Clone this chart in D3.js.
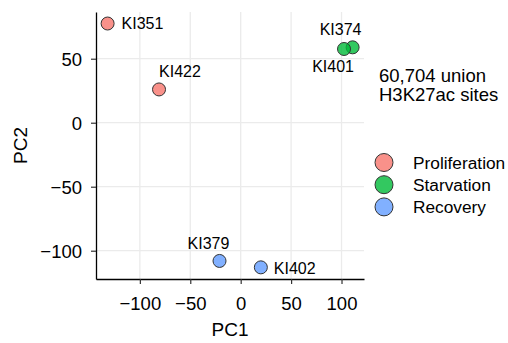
<!DOCTYPE html>
<html><head><meta charset="utf-8">
<script src="https://cdn.jsdelivr.net/npm/d3@7"></script>
<style>body{margin:0;background:#fff}svg{display:block;font-family:"Liberation Sans",Arial,sans-serif}</style>
</head><body><svg id="c" width="508" height="343"></svg>
<script>
const samples = ["KI351","KI422","KI374","KI401","KI379","KI402"];
const pc1 = [-132, -81, 111, 102.5, -21, 20];
const pc2 = [77.5, 26, 58.9, 57.6, -108, -113];
const groups = ["Proliferation","Proliferation","Starvation","Starvation","Recovery","Recovery"];
const groupNames = ["Proliferation","Starvation","Recovery"];
const groupColors = ["#F8766D","#00BA38","#619CFF"];
const xTicks = [-100,-50,0,50,100];
const yTicks = [-100,-50,0,50];
const annotation = ["60,704 union","H3K27ac sites"];

// label placement (style, not data)
const labelPos = {
  KI351:{dx:14,dy:0,anchor:"start",base:"central"},
  KI422:{dx:0,dy:-12,anchor:"start",base:"auto"},
  KI374:{dx:-12,dy:-12,anchor:"middle",base:"auto"},
  KI401:{dx:-11,dy:23,anchor:"middle",base:"auto"},
  KI379:{dx:-11,dy:-12,anchor:"middle",base:"auto"},
  KI402:{dx:13,dy:1,anchor:"start",base:"central"}
};

const svg = d3.select("#c");
const L=96, R=364, T=12, B=279;
const x = d3.scaleLinear().domain([-143.5,122.3]).range([L,R]);
const y = d3.scaleLinear().domain([-122.1,86.5]).range([B,T]);
const color = d3.scaleOrdinal().domain(groupNames).range(groupColors);

const grid = svg.append("g");
grid.selectAll("line.v").data(xTicks).join("line")
  .attr("x1",d=>x(d)).attr("x2",d=>x(d)).attr("y1",T).attr("y2",B)
  .attr("stroke","#ebebeb").attr("stroke-width",1.3);
grid.selectAll("line.h").data(yTicks).join("line")
  .attr("y1",d=>y(d)).attr("y2",d=>y(d)).attr("x1",L).attr("x2",R)
  .attr("stroke","#ebebeb").attr("stroke-width",1.3);

const fmt = d=> d<0 ? "\u2212"+Math.abs(d) : String(d);
const xAxis = svg.append("g").attr("transform",`translate(0,${B})`)
  .call(d3.axisBottom(x).tickValues(xTicks).tickFormat(fmt).tickSize(5).tickSizeOuter(0));
const yAxis = svg.append("g").attr("transform",`translate(${L},0)`)
  .call(d3.axisLeft(y).tickValues(yTicks).tickFormat(fmt).tickSize(5).tickSizeOuter(0));
[xAxis,yAxis].forEach(a=>{
  a.select(".domain").attr("stroke","#000").attr("stroke-width",1.3);
  a.selectAll(".tick line").attr("stroke","#333").attr("stroke-width",1.2);
  a.selectAll("text").attr("fill","#000").attr("font-size",18.5).attr("font-family","Liberation Sans, Arial, sans-serif");
});
xAxis.selectAll("text").attr("dy",null).attr("y",30.5);
yAxis.selectAll("text").attr("x",-14).attr("dy","0.36em");

svg.append("text").attr("x",(L+R)/2).attr("y",336).attr("text-anchor","middle")
  .attr("font-size",19).text("PC1");
svg.append("text").attr("transform",`translate(27,${(T+B)/2}) rotate(-90)`).attr("text-anchor","middle")
  .attr("font-size",19).text("PC2");

const data = samples.map((s,i)=>({s,x:pc1[i],y:pc2[i],g:groups[i]}));
svg.append("g").selectAll("circle").data(data).join("circle")
  .attr("cx",d=>x(d.x)).attr("cy",d=>y(d.y)).attr("r",6.5)
  .attr("fill",d=>color(d.g)).attr("fill-opacity",0.8)
  .attr("stroke","#333").attr("stroke-width",1);

svg.append("g").selectAll("text").data(data).join("text")
  .attr("x",d=>x(d.x)+labelPos[d.s].dx).attr("y",d=>y(d.y)+labelPos[d.s].dy)
  .attr("text-anchor",d=>labelPos[d.s].anchor).attr("dominant-baseline",d=>labelPos[d.s].base)
  .attr("font-size",16).text(d=>d.s);

svg.append("g").selectAll("text").data(annotation).join("text")
  .attr("x",379).attr("y",(d,i)=>81.5+i*19.5).attr("font-size",18.5).text(d=>d);

const leg = svg.append("g").selectAll("g").data(groupNames).join("g")
  .attr("transform",(d,i)=>`translate(384,${162.5+i*22.2})`);
leg.append("circle").attr("r",9).attr("fill",d=>color(d)).attr("fill-opacity",0.8)
  .attr("stroke","#333").attr("stroke-width",1);
leg.append("text").attr("x",29).attr("dominant-baseline","central").attr("font-size",17.3).text(d=>d);
</script></body></html>
